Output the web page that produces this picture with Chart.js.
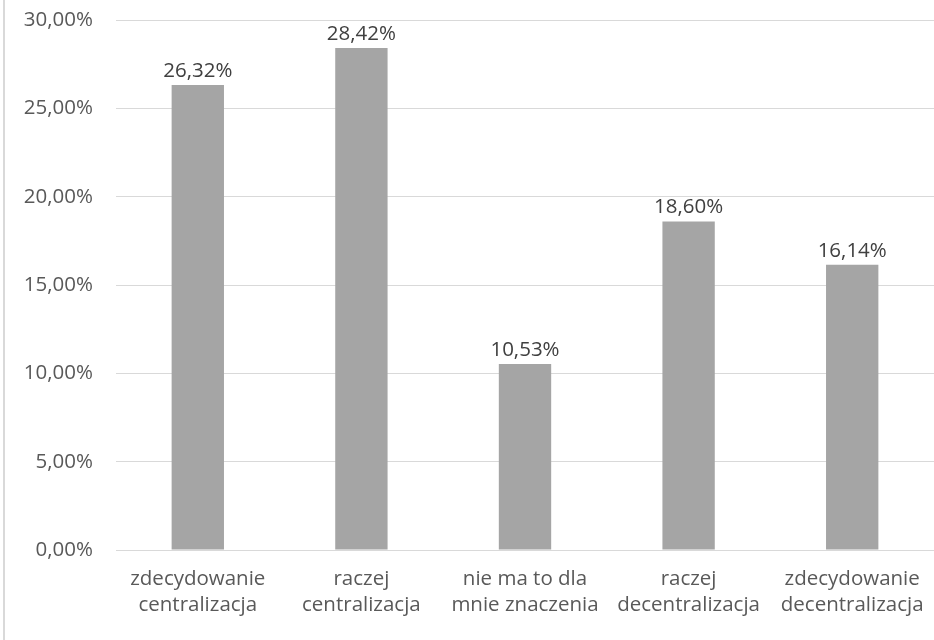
<!DOCTYPE html>
<html><head><meta charset="utf-8">
<script src="https://cdn.jsdelivr.net/npm/chart.js@4/dist/chart.umd.min.js"></script>
<style>
html,body{margin:0;padding:0;background:#fff;}
#wrap{position:relative;width:934px;height:640px;}
#edge{position:absolute;left:3px;top:0;width:2px;height:640px;background:#d9d9d9;}
canvas{display:block;}
</style></head><body>
<div id="wrap"><canvas id="c"></canvas><div id="edge"></div></div>
<script>
const categories = [["zdecydowanie","centralizacja"],["raczej","centralizacja"],["nie ma to dla","mnie znaczenia"],["raczej","decentralizacja"],["zdecydowanie","decentralizacja"]];
const values = [26.32, 28.42, 10.53, 18.60, 16.14];
const yTicks = [0,5,10,15,20,25,30];

const fmt = v => v.toFixed(2).replace('.', ',') + '%';
const FONT = "'Open Sans', 'Noto Sans', sans-serif";
const FS = 20.5;

const labelPlugin = {
  id: 'labels',
  afterDatasetsDraw(chart){
    const ctx = chart.ctx;
    const meta = chart.getDatasetMeta(0);
    ctx.save();
    ctx.font = FS + "px " + FONT;
    ctx.fillStyle = '#404040';
    ctx.textAlign = 'center';
    ctx.textBaseline = 'alphabetic';
    meta.data.forEach((bar, i) => {
      const p = bar.getProps(['x','y'], true);
      ctx.fillText(fmt(values[i]), p.x, p.y - 8);
    });
    ctx.restore();
  }
};

new Chart(document.getElementById('c'), {
  type: 'bar',
  data: { labels: categories, datasets: [{ data: values, backgroundColor: '#a5a5a5', barPercentage: 0.32, categoryPercentage: 1 }] },
  options: {
    responsive: true, maintainAspectRatio: false, animation: false,
    layout: { padding: { top: 20, right: 0, bottom: 0, left: 0 } },
    plugins: { legend: { display: false }, tooltip: { enabled: false } },
    scales: {
      x: {
        grid: { display: false, drawTicks: false },
        border: { color: '#d9d9d9', width: 1 },
        ticks: { color: '#595959', font: { size: FS, family: FONT, lineHeight: 1.23 }, padding: 17, maxRotation: 0, autoSkip: false },
        afterFit(s){ s.height = 90; s.paddingLeft = 0; s.paddingRight = 0; }
      },
      y: {
        min: 0, max: 30,
        afterBuildTicks(s){ s.ticks = yTicks.map(v => ({value: v})); },
        grid: { color: '#d9d9d9', lineWidth: 1, drawTicks: false },
        border: { display: false },
        ticks: { color: '#595959', font: { size: FS, family: FONT }, padding: 23, callback: v => fmt(v) },
        afterFit(s){ s.width = 116; s.paddingTop = 0; s.paddingBottom = 0; }
      }
    }
  },
  plugins: [labelPlugin]
});
</script>
</body></html>
